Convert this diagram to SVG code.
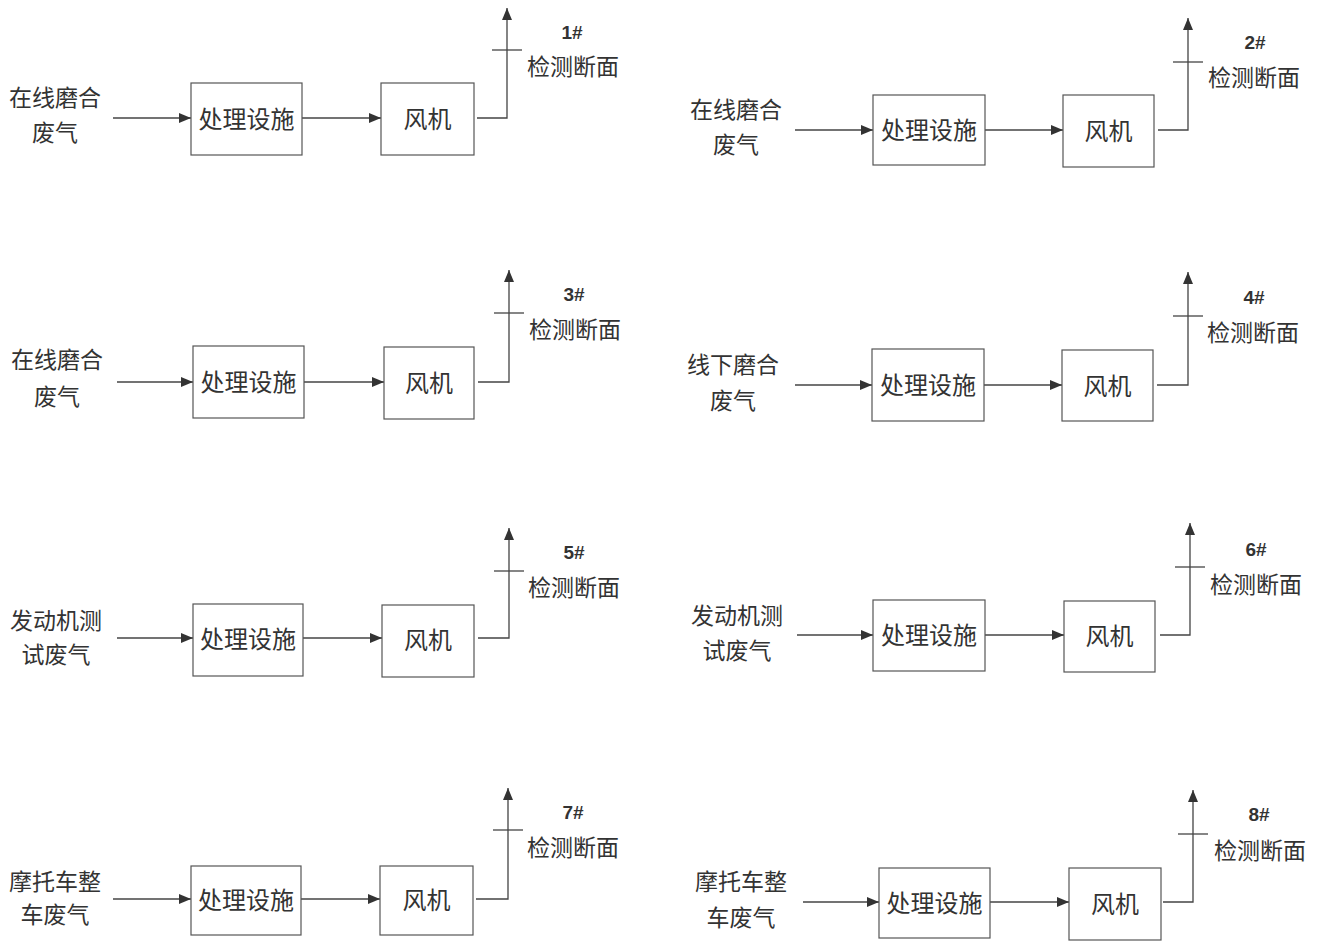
<svg xmlns="http://www.w3.org/2000/svg" width="1325" height="942" viewBox="0 0 1325 942">
<style>
.bg{fill:#fff}
.box{fill:#fff;stroke:#555;stroke-width:1.2}
.ln{fill:none;stroke:#444;stroke-width:1.3}
.arr{marker-end:url(#ah)}
.t{font-family:"Noto Sans CJK SC","Noto Sans",sans-serif;font-size:23px;fill:#333;text-anchor:middle;dominant-baseline:central}
.bt{font-size:24px}
.n{font-family:"Liberation Sans","Noto Sans",sans-serif;font-size:19px;font-weight:bold;fill:#333;text-anchor:middle;dominant-baseline:central}
</style>
<defs>
<marker id="ah" viewBox="0 0 12 10" refX="12" refY="5" markerWidth="12" markerHeight="10" markerUnits="userSpaceOnUse" orient="auto">
<path d="M0,0 L12,5 L0,10 Z" fill="#333"/>
</marker>
</defs>
<rect class="bg" x="0" y="0" width="1325" height="942"/>

<g id="connectors">
<line class="ln arr" x1="113" y1="118" x2="191" y2="118"/>
<line class="ln arr" x1="302" y1="118" x2="381" y2="118"/>
<polyline class="ln arr" points="477,118 507,118 507,8"/>
<line class="ln" x1="492" y1="50" x2="522" y2="50"/>
<line class="ln arr" x1="795" y1="130" x2="873" y2="130"/>
<line class="ln arr" x1="985" y1="130" x2="1063" y2="130"/>
<polyline class="ln arr" points="1158,130 1188,130 1188,18"/>
<line class="ln" x1="1173" y1="62" x2="1203" y2="62"/>
<line class="ln arr" x1="117" y1="382" x2="193" y2="382"/>
<line class="ln arr" x1="304" y1="382" x2="384" y2="382"/>
<polyline class="ln arr" points="478,382 509,382 509,270"/>
<line class="ln" x1="494" y1="313" x2="524" y2="313"/>
<line class="ln arr" x1="795" y1="385" x2="872" y2="385"/>
<line class="ln arr" x1="984" y1="385" x2="1062" y2="385"/>
<polyline class="ln arr" points="1157,385 1188,385 1188,272"/>
<line class="ln" x1="1173" y1="316" x2="1203" y2="316"/>
<line class="ln arr" x1="117" y1="638" x2="193" y2="638"/>
<line class="ln arr" x1="303" y1="638" x2="382" y2="638"/>
<polyline class="ln arr" points="478,638 509,638 509,528"/>
<line class="ln" x1="494" y1="571" x2="524" y2="571"/>
<line class="ln arr" x1="797" y1="635" x2="873" y2="635"/>
<line class="ln arr" x1="985" y1="635" x2="1064" y2="635"/>
<polyline class="ln arr" points="1160,635 1190,635 1190,523"/>
<line class="ln" x1="1175" y1="567" x2="1205" y2="567"/>
<line class="ln arr" x1="113" y1="899" x2="191" y2="899"/>
<line class="ln arr" x1="301" y1="899" x2="380" y2="899"/>
<polyline class="ln arr" points="476,899 508,899 508,788"/>
<line class="ln" x1="493" y1="830" x2="523" y2="830"/>
<line class="ln arr" x1="803" y1="902" x2="879" y2="902"/>
<line class="ln arr" x1="990" y1="902" x2="1069" y2="902"/>
<polyline class="ln arr" points="1163,902 1193,902 1193,790"/>
<line class="ln" x1="1178" y1="834" x2="1208" y2="834"/>
</g>

<g id="src1"><text class="t" x="55" y="96">在线磨合</text><text class="t" x="55" y="131">废气</text></g>
<g id="treat1"><rect class="box" x="191" y="83" width="111" height="72"/><text class="t bt" x="246.5" y="117">处理设施</text></g>
<g id="fan1"><rect class="box" x="381" y="83" width="93" height="72"/><text class="t bt" x="427.5" y="117">风机</text></g>
<g id="mon1"><text class="n" x="572" y="32">1#</text><text class="t" x="573" y="65">检测断面</text></g>

<g id="src2"><text class="t" x="736" y="108">在线磨合</text><text class="t" x="736" y="143">废气</text></g>
<g id="treat2"><rect class="box" x="873" y="95" width="112" height="70"/><text class="t bt" x="929" y="128">处理设施</text></g>
<g id="fan2"><rect class="box" x="1063" y="95" width="91" height="72"/><text class="t bt" x="1108.5" y="129">风机</text></g>
<g id="mon2"><text class="n" x="1255" y="42">2#</text><text class="t" x="1254" y="76">检测断面</text></g>

<g id="src3"><text class="t" x="57" y="358">在线磨合</text><text class="t" x="57" y="395">废气</text></g>
<g id="treat3"><rect class="box" x="193" y="346" width="111" height="72"/><text class="t bt" x="248.5" y="380">处理设施</text></g>
<g id="fan3"><rect class="box" x="384" y="347" width="90" height="72"/><text class="t bt" x="429" y="381">风机</text></g>
<g id="mon3"><text class="n" x="574" y="294">3#</text><text class="t" x="575" y="328">检测断面</text></g>

<g id="src4"><text class="t" x="733" y="363">线下磨合</text><text class="t" x="733" y="399">废气</text></g>
<g id="treat4"><rect class="box" x="872" y="349" width="112" height="72"/><text class="t bt" x="928" y="383">处理设施</text></g>
<g id="fan4"><rect class="box" x="1062" y="350" width="91" height="71"/><text class="t bt" x="1107.5" y="384">风机</text></g>
<g id="mon4"><text class="n" x="1254" y="297">4#</text><text class="t" x="1253" y="331">检测断面</text></g>

<g id="src5"><text class="t" x="56" y="619">发动机测</text><text class="t" x="56" y="653">试废气</text></g>
<g id="treat5"><rect class="box" x="193" y="604" width="110" height="72"/><text class="t bt" x="248" y="637">处理设施</text></g>
<g id="fan5"><rect class="box" x="382" y="605" width="92" height="72"/><text class="t bt" x="428" y="638">风机</text></g>
<g id="mon5"><text class="n" x="574" y="552">5#</text><text class="t" x="574" y="586">检测断面</text></g>

<g id="src6"><text class="t" x="737" y="614">发动机测</text><text class="t" x="737" y="649">试废气</text></g>
<g id="treat6"><rect class="box" x="873" y="600" width="112" height="71"/><text class="t bt" x="929" y="633">处理设施</text></g>
<g id="fan6"><rect class="box" x="1064" y="601" width="91" height="71"/><text class="t bt" x="1109.5" y="634">风机</text></g>
<g id="mon6"><text class="n" x="1256" y="549">6#</text><text class="t" x="1256" y="583">检测断面</text></g>

<g id="src7"><text class="t" x="55" y="880">摩托车整</text><text class="t" x="55" y="913">车废气</text></g>
<g id="treat7"><rect class="box" x="191" y="866" width="110" height="69"/><text class="t bt" x="246" y="898">处理设施</text></g>
<g id="fan7"><rect class="box" x="380" y="866" width="93" height="69"/><text class="t bt" x="426.5" y="898">风机</text></g>
<g id="mon7"><text class="n" x="573" y="812">7#</text><text class="t" x="573" y="846">检测断面</text></g>

<g id="src8"><text class="t" x="741" y="880">摩托车整</text><text class="t" x="741" y="916">车废气</text></g>
<g id="treat8"><rect class="box" x="879" y="868" width="111" height="70"/><text class="t bt" x="934.5" y="901">处理设施</text></g>
<g id="fan8"><rect class="box" x="1069" y="868" width="92" height="72"/><text class="t bt" x="1115" y="902">风机</text></g>
<g id="mon8"><text class="n" x="1259" y="814">8#</text><text class="t" x="1260" y="849">检测断面</text></g>
</svg>
